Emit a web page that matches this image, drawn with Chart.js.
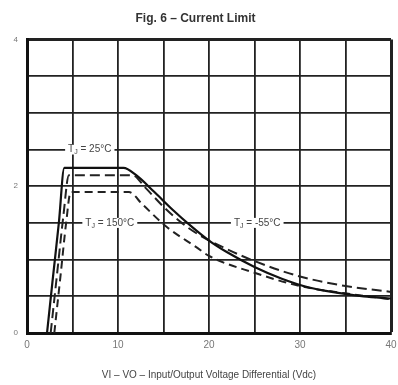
<!DOCTYPE html>
<html>
<head>
<meta charset="utf-8">
<script src="https://cdn.jsdelivr.net/npm/chart.js@4.4.0/dist/chart.umd.min.js"></script>
<style>
  body { margin: 0; background: #fff; }
  #wrap { width: 398px; height: 385px; }
</style>
</head>
<body>
<div id="wrap"><canvas id="c" width="398" height="385"></canvas></div>
<script>
// curve data (x = input-output differential V, y = current A)
const x25  = [2.2, 2.8, 3.5, 4.1, 10.6, 12, 14, 16, 18, 20, 22, 25, 28, 31, 34, 37, 40];
const y25  = [0, 0.7, 1.5, 2.25, 2.25, 2.15, 1.92, 1.68, 1.46, 1.26, 1.1, 0.9, 0.74, 0.62, 0.55, 0.5, 0.47];
const xm55 = [2.6, 3.3, 4.0, 4.6, 11.6, 13, 15, 17, 19, 21, 25, 30, 35, 40];
const ym55 = [0, 0.8, 1.6, 2.15, 2.15, 1.98, 1.72, 1.5, 1.33, 1.2, 0.98, 0.77, 0.64, 0.56];
const x150 = [3.0, 3.7, 4.3, 4.8, 11.2, 12.7, 15.3, 18.6, 20, 25, 30, 35, 40];
const y150 = [0, 0.8, 1.5, 1.92, 1.92, 1.75, 1.45, 1.17, 1.05, 0.82, 0.64, 0.54, 0.46];

// curve labels: text, x, y (data coords)
const noteText = ['25°C', '150°C', '-55°C'];
const noteX = [6.9, 9.1, 25.3];
const noteY = [2.5, 1.5, 1.5];

const pts = (xs, ys) => xs.map((x, i) => ({x: x, y: ys[i]}));
const FONT = '"Liberation Sans", Arial, sans-serif';

// draws the "TJ = ..." labels sitting on the gridlines
const notes = {
  id: 'notes',
  afterDatasetsDraw(chart) {
    const c = chart.ctx, xs = chart.scales.x, ys = chart.scales.y;
    c.save();
    for (let i = 0; i < noteText.length; i++) {
      const cx = xs.getPixelForValue(noteX[i]);
      const cy = ys.getPixelForValue(noteY[i]);
      const rest = ' = ' + noteText[i];
      c.font = '10px ' + FONT;
      const wT = c.measureText('T').width;
      const wRest = c.measureText(rest).width;
      c.font = '7px ' + FONT;
      const wJ = c.measureText('J').width;
      const w = wT + wJ + wRest;
      c.fillStyle = '#fff';
      c.fillRect(cx - w / 2 - 3, cy - 5, w + 6, 10);
      c.fillStyle = '#444';
      c.textBaseline = 'middle';
      let px = cx - w / 2;
      c.font = '10px ' + FONT;
      c.fillText('T', px, cy);
      px += wT;
      c.font = '7px ' + FONT;
      c.fillText('J', px, cy + 3);
      px += wJ;
      c.font = '10px ' + FONT;
      c.fillText(rest, px, cy);
    }
    c.restore();
  }
};

new Chart(document.getElementById('c'), {
  type: 'scatter',
  data: {
    datasets: [
      { label: 'TJ = 25°C', data: pts(x25, y25), borderColor: '#111', borderWidth: 2.2 },
      { label: 'TJ = -55°C', data: pts(xm55, ym55), borderColor: '#222', borderWidth: 2, borderDash: [10, 5] },
      { label: 'TJ = 150°C', data: pts(x150, y150), borderColor: '#222', borderWidth: 2, borderDash: [8, 5] }
    ].map(d => Object.assign(d, { showLine: true, pointRadius: 0, cubicInterpolationMode: 'monotone', fill: false }))
  },
  options: {
    responsive: false,
    animation: false,
    layout: { padding: { top: 0, right: 7, left: 0, bottom: 0 } },
    plugins: {
      legend: { display: false },
      tooltip: { enabled: false },
      title: {
        display: true,
        text: 'Fig. 6 – Current Limit',
        color: '#333',
        font: { family: FONT, size: 12, weight: 'bold' },
        padding: { top: 11, bottom: 14 }
      }
    },
    scales: {
      x: {
        type: 'linear', min: 0, max: 40,
        afterFit: s => { s.height = 52; s.paddingLeft = 0; s.paddingRight = 0; },
        ticks: {
          stepSize: 5, autoSkip: false, maxRotation: 0, color: '#777', padding: 6,
          font: { family: FONT, size: 10 },
          callback: v => (v % 10 === 0 ? v : '')
        },
        grid: { color: '#222', lineWidth: c => (c.tick && (c.tick.value === 40) ? 3 : 1.8), drawTicks: false },
        border: { color: '#111', width: 3 },
        title: {
          display: true,
          text: 'VI – VO – Input/Output Voltage Differential (Vdc)',
          color: '#444',
          font: { family: FONT, size: 10 },
          padding: { top: 3 }
        }
      },
      y: {
        min: 0, max: 4,
        afterFit: s => { s.width = 27; },
        ticks: {
          stepSize: 0.5, autoSkip: false, color: '#777', padding: 9,
          font: { family: FONT, size: 8 },
          callback: v => (v % 2 === 0 ? v : '')
        },
        grid: { color: '#222', lineWidth: c => (c.tick && (c.tick.value === 4) ? 3 : 1.8), drawTicks: false },
        border: { color: '#111', width: 3 }
      }
    }
  },
  plugins: [notes]
});
</script>
</body>
</html>
